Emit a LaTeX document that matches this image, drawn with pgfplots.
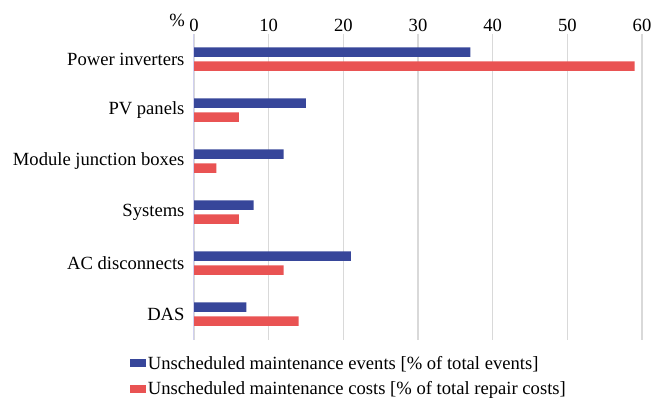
\documentclass[border=0pt]{standalone}
\usepackage{fontspec}
\setmainfont{Liberation Serif}
\usepackage{pgfplots}
\pgfplotsset{compat=1.18}
\usetikzlibrary{calc}
\definecolor{evblue}{RGB}{55,70,154}
\definecolor{costred}{RGB}{233,83,83}
\definecolor{gridgray}{RGB}{217,217,217}
\begin{document}
\begin{tikzpicture}
\begin{axis}[
  scale only axis,
  width=448bp, height=306bp,
  xbar,
  y dir=reverse,
  xmin=0, xmax=60,
  ymin=-0.5, ymax=5.5,
  axis x line*=top,
  axis y line*=left,
  xtick={0,10,20,30,40,50,60},
  ytick={0,1,2,3,4,5},
  yticklabels={Power inverters,PV panels,Module junction boxes,Systems,AC disconnects,DAS},
  xmajorgrids, grid style={gridgray, line width=1.2pt},
  major tick length=0pt,
  x axis line style={draw=none},
  y axis line style={draw=none},
  /pgf/number format/assume math mode=true,
  tick label style={font=\fontsize{18.67}{21}\selectfont},
  xticklabel style={yshift=-2bp},
  yticklabel style={xshift=-6bp},
  bar width=9.5bp,
  legend style={draw=none, at={($(axis description cs:0,-0.048)+(-64bp,0bp)$)}, anchor=north west,
    font=\fontsize{18.67}{21}\selectfont, row sep=7bp, cells={anchor=west}, inner sep=0pt, outer sep=0pt},
  legend cell align=left,
  legend image code/.code={\fill[#1] (-4bp,-4bp) rectangle (12bp,4bp);},
  clip=false,
]
\addplot[fill=evblue, draw=none, bar shift=7bp] coordinates {(37,0) (15,1) (12,2) (8,3) (21,4) (7,5)};
\addplot[fill=costred, draw=none, bar shift=-7bp] coordinates {(59,0) (6,1) (3,2) (6,3) (12,4) (14,5)};
\legend{Unscheduled maintenance events [\% of total events], Unscheduled maintenance costs [\% of total repair costs]}
\draw[color={rgb,255:red,208;green,208;blue,240}, line width=1pt] (axis cs:0,-0.5) -- (axis cs:0,5.5);
\node[anchor=base east, font=\fontsize{18.67}{21}\selectfont, inner sep=0pt] at ($(rel axis cs:0,1)+(-9bp,7bp)$) {\%};
\end{axis}
\path ($(current axis.south west)+(-194bp,-60.5bp)$) rectangle ($(current axis.south west)+(470bp,339.5bp)$);
\end{tikzpicture}
\end{document}
